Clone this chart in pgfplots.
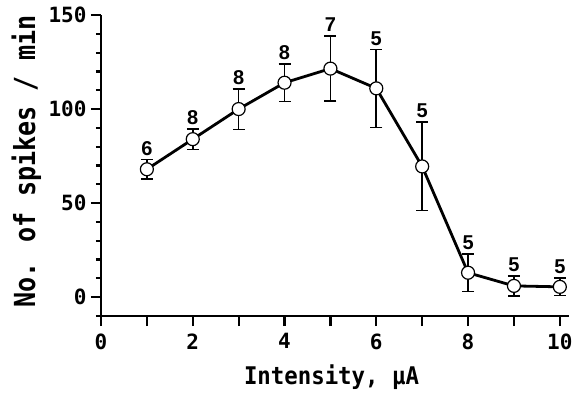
\documentclass[border=0pt]{standalone}
\usepackage{fontspec}
\setmainfont{DejaVu Sans}
\newfontfamily\ylabfont[FakeStretch=0.865]{DejaVu Sans Mono Bold}
\newfontfamily\xlabfont[FakeStretch=0.92]{DejaVu Sans Mono Bold}
\newfontfamily\tickfont{DejaVu Sans Mono Bold}
\newfontfamily\numfont{Liberation Sans Bold}
\usepackage{pgfplots}
\pgfplotsset{compat=1.18}
\pgfplotstableread{
x y err
1 68 5.2
2 84 5.5
3 100 10.8
4 114 10
5 121.5 17.3
6 111 20.7
7 69.5 23.5
8 13 10
9 6 5.3
10 5.5 4.6
}\data
\pgfplotstableread{
x top n
1 73.2 6
2 89.5 8
3 110.8 8
4 124 8
5 138.8 7
6 131.7 5
7 93 5
8 23 5
9 11.3 5
10 10.1 5
}\labels
\begin{document}
\begin{tikzpicture}
\begin{axis}[
  scale only axis, width=468pt, height=301pt,
  xmin=0, xmax=10.2, ymin=-10, ymax=150,
  axis x line*=bottom, axis y line*=left,
  axis line style={line width=2.5pt, -},
  xtick={0,1,...,10},
  xticklabels={0,,2,,4,,6,,8,,10},
  ytick={0,50,100,150},
  minor ytick={-10,10,20,30,40,60,70,80,90,110,120,130,140},
  tick align=outside,
  major tick length=10pt,
  minor tick length=5pt,
  every tick/.style={line width=2.2pt, black},
  /pgf/number format/assume math mode=true,
  ticklabel style={font=\tickfont\fontsize{21}{21}\selectfont},
  yticklabel style={xshift=-1pt},
  xticklabel style={yshift=-4pt},
  xlabel={Intensity, μA},
  ylabel={No. of spikes / min},
  every axis x label/.style={at={(axis description cs:0.4925,-0.226)}, anchor=base, font=\xlabfont\fontsize{24.3}{24.3}\selectfont},
  every axis y label/.style={at={(axis description cs:-0.141,0.513)}, anchor=base, rotate=90, font=\ylabfont\fontsize{29}{29}\selectfont},
  clip=false,
]
\addplot[black, line width=2.8pt,
  mark=*, mark size=6.5pt,
  mark options={fill=white, draw=black, line width=1.2pt, solid},
  error bars/.cd, y dir=both, y explicit,
  error bar style={line width=1.6pt, black},
  error mark options={rotate=90, mark size=6pt, line width=1.6pt, black}]
  table[x=x, y=y, y error=err] {\data};
\addplot[draw=none, mark=none, nodes near coords, point meta=explicit symbolic,
  nodes near coords style={anchor=south, inner sep=4pt, font=\numfont\fontsize{20}{20}\selectfont}]
  table[x=x, y=top, meta=n] {\labels};
\end{axis}
\path ([xshift=-101pt,yshift=-77pt]current axis.south west) rectangle ([xshift=8pt,yshift=15pt]current axis.north east);
\end{tikzpicture}
\end{document}
